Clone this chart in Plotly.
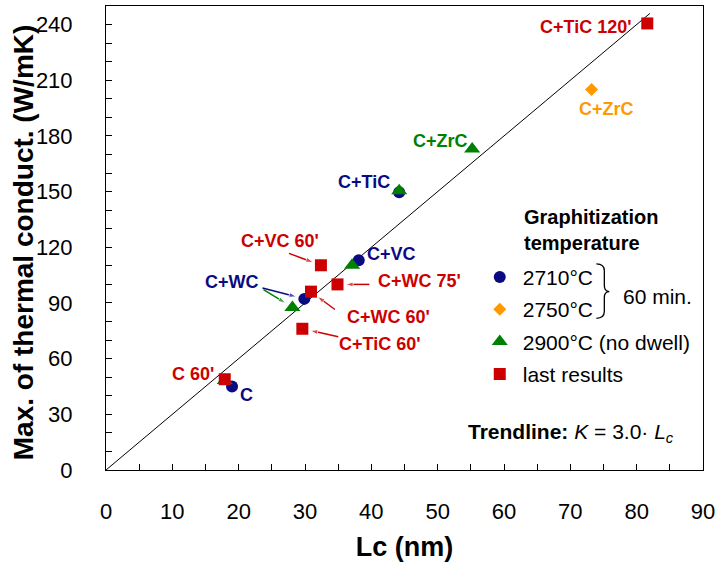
import plotly.graph_objects as go

# Crystallite height Lc (nm) vs. max. thermal conductivity K (W/mK)
lc_2710 = [19.0, 29.9, 38.1, 44.2]
k_2710 = [45.0, 92.2, 113.0, 149.6]
names_2710 = ["C", "C+WC", "C+VC", "C+TiC"]

lc_2750 = [73.2]
k_2750 = [205.0]
names_2750 = ["C+ZrC"]

lc_2900 = [17.9, 28.1, 37.1, 44.2, 55.2]
k_2900 = [48.2, 87.6, 110.3, 150.4, 173.0]
names_2900 = ["C", "C+WC", "C+VC", "C+TiC", "C+ZrC"]

lc_last = [17.9, 29.6, 30.9, 32.4, 34.9, 81.6]
k_last = [48.9, 76.1, 96.1, 110.3, 100.0, 240.6]
names_last = ["C 60'", "C+TiC 60'", "C+WC 60'", "C+VC 60'", "C+WC 75'", "C+TiC 120'"]

trend_slope = 3.0
trend_lc = [0, 82]

x_range = [0, 90]
y_range = [0, 250]
x_ticks = list(range(0, 91, 10))
y_ticks = list(range(0, 241, 30))

NAVY = "#0a0a82"
ORANGE = "#ff9900"
GREEN = "#008000"
RED = "#cc0000"
FONT = "Liberation Sans, Arial, sans-serif"

W, H = 720, 562
ML, MR, MT, MB = 106, 15, 5, 89
PW, PH = W - ML - MR, H - MT - MB
SX = PW / (x_range[1] - x_range[0])   # px per nm
SY = PH / (y_range[1] - y_range[0])   # px per W/mK


def paper(px, py):
    """Screen pixel -> paper coordinates (for decorations only)."""
    return (px - ML) / PW, (H - MB - py) / PH


fig = go.Figure()

# trendline K = 3.0 * Lc
fig.add_trace(go.Scatter(
    x=trend_lc, y=[trend_slope * v for v in trend_lc], mode="lines",
    line=dict(color="black", width=1), showlegend=False, hoverinfo="skip"))

series = [
    ("2710°C", lc_2710, k_2710, "circle", 12, NAVY),
    ("2750°C", lc_2750, k_2750, "diamond", 10, ORANGE),
    ("2900°C (no dwell)", lc_2900, k_2900, "triangle-up", 14, GREEN),
    ("last results", lc_last, k_last, "square", 12, RED),
]
for i, (name, xs, ys, sym, size, col) in enumerate(series):
    fig.add_trace(go.Scatter(
        x=xs, y=ys, mode="markers", name=name, legendgroup=f"g{i}",
        marker=dict(symbol=sym, size=size, color=col, line=dict(width=0))))

# pointer arrows: (series x, series y, names, name, colour, tail dx px, tail dy px)
arrows = [
    (lc_last, k_last, names_last, "C+VC 60'", RED, -32, -12),
    (lc_last, k_last, names_last, "C+WC 75'", RED, 32, 0),
    (lc_last, k_last, names_last, "C+WC 60'", RED, 24, 18),
    (lc_last, k_last, names_last, "C+TiC 60'", RED, 36, 8),
    (lc_2710, k_2710, names_2710, "C+WC", NAVY, -42, -11),
    (lc_2900, k_2900, names_2900, "C+WC", GREEN, -29, -18),
]
for xs, ys, names, n, col, dx, dy in arrows:
    j = names.index(n)
    x0, y0 = xs[j], ys[j]
    tail = (x0 + dx / SX, y0 - dy / SY)
    fig.add_trace(go.Scatter(
        x=[tail[0], x0], y=[tail[1], y0], mode="lines+markers",
        line=dict(color=col, width=1.5),
        marker=dict(symbol=["circle", "arrow"], size=[0, 8], color=col,
                    angleref="previous", standoff=8),
        showlegend=False, hoverinfo="skip"))

# point labels: (series x, series y, names, colour, {name: (xshift, yshift)})
label_sets = [
    (lc_2710, k_2710, names_2710, NAVY,
     {"C": (14, -9), "C+WC": (-72, 17), "C+VC": (33, 6), "C+TiC": (-35, 10)}),
    (lc_2750, k_2750, names_2750, ORANGE, {"C+ZrC": (15, -19)}),
    (lc_2900, k_2900, names_2900, GREEN, {"C+ZrC": (-32, 8)}),
    (lc_last, k_last, names_last, RED,
     {"C 60'": (-32, 5), "C+TiC 60'": (77, -15), "C+WC 60'": (78, -25),
      "C+VC 60'": (-41, 24), "C+WC 75'": (82, 3), "C+TiC 120'": (-61, -4)}),
]
for xs, ys, names, col, offsets in label_sets:
    for x, y, n in zip(xs, ys, names):
        if n in offsets:
            dx, dy = offsets[n]
            fig.add_annotation(
                x=x, y=y, text=f"<b>{n}</b>", showarrow=False,
                xshift=dx, yshift=dy, font=dict(family=FONT, size=18, color=col))

# y-axis title
yx, yy = paper(24, 243)
fig.add_annotation(
    xref="paper", yref="paper", x=yx, y=yy, xanchor="center", yanchor="middle",
    textangle=-90, showarrow=False,
    text="<b>Max. of thermal conduct. (W/mK)</b>",
    font=dict(family=FONT, size=28, color="black"))

# legend heading, bracket and note
hx, hy = paper(523, 231)
fig.add_annotation(
    xref="paper", yref="paper", x=hx, y=hy, xanchor="left", yanchor="middle",
    align="left", showarrow=False, text="<b>Graphitization<br>temperature</b>",
    font=dict(family=FONT, size=20, color="black"))

pts = [(598, 265), (606, 272), (606, 287), (611, 293), (606, 299), (606, 313), (598, 320)]
p = [paper(*q) for q in pts]
brace = (f"M{p[0][0]},{p[0][1]} Q{p[1][0]},{p[0][1]} {p[1][0]},{p[1][1]} "
         f"L{p[2][0]},{p[2][1]} Q{p[2][0]},{p[3][1]} {p[3][0]},{p[3][1]} "
         f"Q{p[4][0]},{p[3][1]} {p[4][0]},{p[4][1]} L{p[5][0]},{p[5][1]} "
         f"Q{p[5][0]},{p[6][1]} {p[6][0]},{p[6][1]}")
fig.add_shape(type="path", xref="paper", yref="paper", path=brace,
              line=dict(color="black", width=1.3))

nx, ny = paper(623, 298)
fig.add_annotation(
    xref="paper", yref="paper", x=nx, y=ny, xanchor="left", yanchor="middle",
    showarrow=False, text="60 min.", font=dict(family=FONT, size=21, color="black"))

tx, ty = paper(678, 436)
fig.add_annotation(
    xref="paper", yref="paper", x=tx, y=ty, xanchor="right", yanchor="middle",
    showarrow=False,
    text=f"<b>Trendline:</b> <i>K</i> = {trend_slope:.1f}· <i>L<sub>c</sub></i>",
    font=dict(family=FONT, size=21, color="black"))

lx, ly = paper(478, 258)
axis_common = dict(
    showline=True, linecolor="black", linewidth=1, mirror=True,
    showgrid=False, zeroline=False, ticks="inside", ticklen=6,
    tickcolor="black", tickwidth=1,
    tickfont=dict(family=FONT, size=22, color="black"),
)
fig.update_layout(
    width=W, height=H,
    margin=dict(l=ML, r=MR, t=MT, b=MB),
    paper_bgcolor="white", plot_bgcolor="white",
    font=dict(family=FONT, color="black"),
    xaxis=dict(
        range=x_range, tickvals=x_ticks,
        minor=dict(dtick=5, ticks="inside", ticklen=6, tickcolor="black"),
        ticklabelstandoff=22,
        title=dict(text="<b>Lc (nm)</b>", font=dict(family=FONT, size=27), standoff=14),
        **axis_common),
    yaxis=dict(
        range=y_range, tickvals=y_ticks,
        minor=dict(dtick=10, ticks="inside", ticklen=6, tickcolor="black"),
        ticklabelstandoff=28,
        **axis_common),
    legend=dict(
        x=lx, y=ly, xanchor="left", yanchor="top", itemwidth=36,
        bgcolor="rgba(0,0,0,0)", traceorder="grouped", tracegroupgap=2,
        font=dict(family=FONT, size=21, color="black")),
)

fig.write_html("out.html")
